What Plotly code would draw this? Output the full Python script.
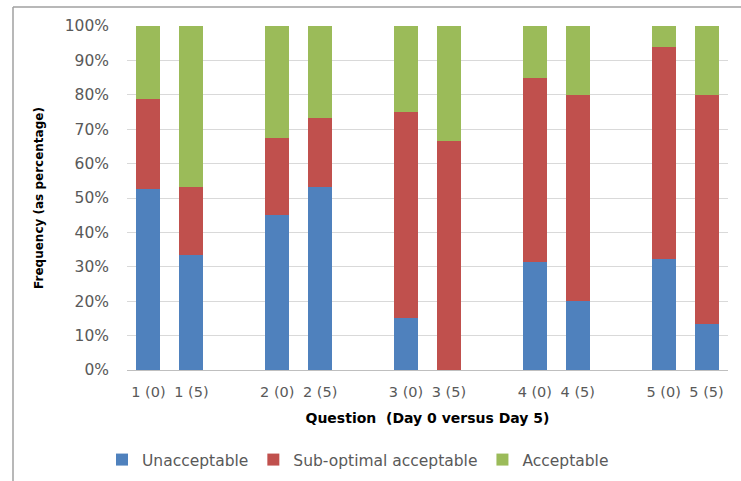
import plotly.graph_objects as go

labels = ["1 (0)", "1 (5)", "2 (0)", "2 (5)", "3 (0)", "3 (5)", "4 (0)", "4 (5)", "5 (0)", "5 (5)"]
unacceptable = [52.6, 33.3, 45.0, 53.3, 15.0, 0.0, 31.3, 20.0, 32.4, 13.3]
sub_optimal = [26.3, 20.0, 22.5, 20.0, 60.0, 66.7, 53.7, 60.0, 61.5, 66.7]
acceptable = [21.1, 46.7, 32.5, 26.7, 25.0, 33.3, 15.0, 20.0, 6.1, 20.0]
y_ticks = [0, 10, 20, 30, 40, 50, 60, 70, 80, 90, 100]

# pairs of bars with one empty slot between questions
positions = [(i // 2) * 3 + (i % 2) for i in range(len(labels))]

W, H = 741, 481
L, R, T, B = 127, 13, 26, 111
pw, ph = W - L - R, H - T - B

font_family = "DejaVu Sans"
fig = go.Figure()
for name, vals, col in [("Unacceptable", unacceptable, "#4F81BD"),
                        ("Sub-optimal acceptable", sub_optimal, "#C0504D"),
                        ("Acceptable", acceptable, "#9BBB59")]:
    fig.add_trace(go.Bar(x=positions, y=vals, name=name, marker_color=col,
                         marker_line_width=0))

def px_x(p):
    return (p - L) / pw

def px_y(p):
    return (H - B - p) / ph

fig.update_layout(
    width=W, height=H,
    barmode="stack", bargap=0.44,
    margin=dict(l=L, r=R, t=T, b=B, autoexpand=False),
    paper_bgcolor="white", plot_bgcolor="white",
    font=dict(family=font_family, size=14, color="#595959"),
    xaxis=dict(range=[-0.5, 13.5], tickmode="array", tickvals=positions, ticktext=labels,
               showgrid=False, showline=True, linecolor="#BFBFBF", linewidth=1,
               ticks="", ticklabelstandoff=9, tickfont=dict(size=14.5, color="#595959"),
               title=dict(text="<b>Question  (Day 0 versus Day 5)</b>",
                          font=dict(size=14, color="#000000"),
                          standoff=13)),
    yaxis=dict(range=[0, 100], tickmode="array", tickvals=y_ticks,
               ticktext=[f"{v}%" for v in y_ticks],
               showgrid=True, gridcolor="#D9D9D9", gridwidth=1, zeroline=False,
               showline=False, ticks="", ticklabelstandoff=17,
               tickfont=dict(size=15.5, color="#595959"),
               title=dict(text="<b>Frequency (as percentage)</b>",
                          font=dict(size=12, color="#000000"), standoff=18)),
    legend=dict(orientation="h", x=px_x(358), xanchor="center", y=px_y(460), yanchor="middle",
                font=dict(size=15.5, color="#595959"), itemwidth=30, traceorder="normal"),
    shapes=[
        dict(type="line", xref="paper", yref="paper", x0=px_x(13), x1=px_x(745),
             y0=px_y(7), y1=px_y(7), line=dict(color="#A0A0A0", width=1.5)),
        dict(type="line", xref="paper", yref="paper", x0=px_x(13), x1=px_x(13),
             y0=px_y(7), y1=px_y(485), line=dict(color="#A0A0A0", width=1.5)),
    ],
)

fig.write_html("out.html", config={"displayModeBar": False},
               post_script="document.body.style.margin='0';document.body.style.overflow='hidden';")
